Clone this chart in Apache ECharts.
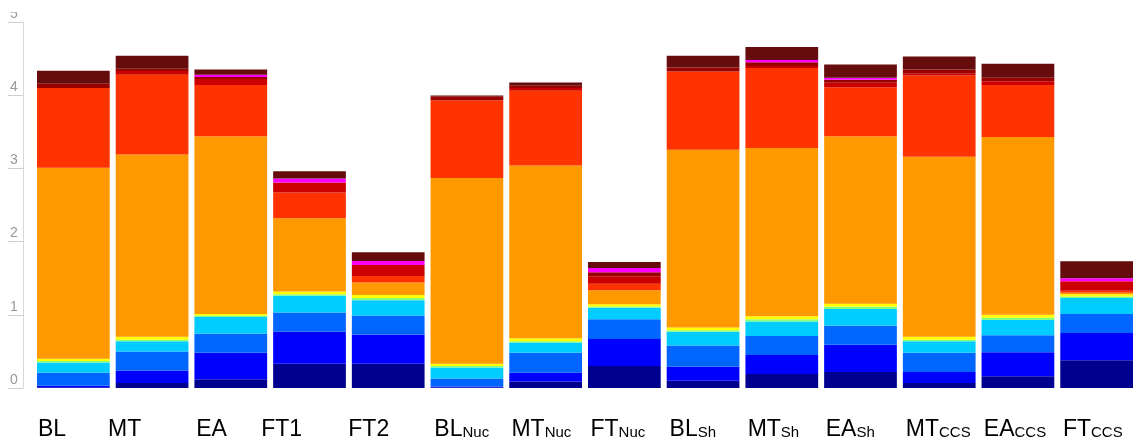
<!DOCTYPE html>
<html>
<head>
<meta charset="utf-8">
<script src="https://cdn.jsdelivr.net/npm/echarts@6/dist/echarts.min.js"></script>
<style>
  html, body { margin: 0; padding: 0; background: #ffffff; }
  #chart { width: 1136px; height: 441px; }
</style>
</head>
<body>
<div id="chart"></div>
<script>
// Scenario labels: main name plus optional subscript
const categories = ['BL', 'MT', 'EA', 'FT1', 'FT2', 'BL|Nuc', 'MT|Nuc', 'FT|Nuc',
                    'BL|Sh', 'MT|Sh', 'EA|Sh', 'MT|CCS', 'EA|CCS', 'FT|CCS'];
const yTicks = [0, 1, 2, 3, 4, 5];

// Stacked components, bottom to top
const navy      = [0.01, 0.07, 0.12, 0.33, 0.33, 0.01, 0.09, 0.30, 0.10, 0.19, 0.22, 0.07, 0.16, 0.38];
const blue      = [0.02, 0.17, 0.36, 0.44, 0.40, 0.01, 0.12, 0.37, 0.19, 0.26, 0.37, 0.15, 0.33, 0.37];
const midBlue   = [0.18, 0.26, 0.26, 0.26, 0.26, 0.11, 0.27, 0.27, 0.29, 0.26, 0.26, 0.26, 0.23, 0.26];
const cyan      = [0.14, 0.14, 0.23, 0.23, 0.21, 0.15, 0.14, 0.155, 0.19, 0.20, 0.23, 0.16, 0.21, 0.22];
const lime      = [0.02, 0.02, 0.02, 0.02, 0.03, 0.02, 0.02, 0.02, 0.02, 0.03, 0.03, 0.02, 0.03, 0.02];
const yellow    = [0.03, 0.04, 0.02, 0.04, 0.04, 0.03, 0.04, 0.03, 0.035, 0.04, 0.04, 0.04, 0.04, 0.03];
const orange    = [2.61, 2.49, 2.43, 1.00, 0.17, 2.54, 2.36, 0.19, 2.43, 2.30, 2.29, 2.46, 2.43, 0.02];
const redOrange = [1.09, 1.09, 0.70, 0.35, 0.09, 1.06, 1.02, 0.09, 1.07, 1.09, 0.67, 1.11, 0.71, 0.03];
const red       = [0.00, 0.05, 0.08, 0.137, 0.15, 0.00, 0.04, 0.10, 0.00, 0.03, 0.06, 0.03, 0.05, 0.13];
const darkRed   = [0.055, 0.03, 0.03, 0.00, 0.00, 0.055, 0.03, 0.055, 0.055, 0.05, 0.04, 0.05, 0.05, 0.00];
const magenta   = [0.00, 0.00, 0.03, 0.055, 0.055, 0.00, 0.00, 0.06, 0.00, 0.03, 0.03, 0.00, 0.00, 0.04];
const brown     = [0.18, 0.18, 0.07, 0.10, 0.12, 0.01, 0.045, 0.08, 0.16, 0.18, 0.18, 0.18, 0.19, 0.23];

const layers = [
  { name: 'navy',      data: navy,      color: '#000090' },
  { name: 'blue',      data: blue,      color: '#0000ff' },
  { name: 'midBlue',   data: midBlue,   color: '#0066ff' },
  { name: 'cyan',      data: cyan,      color: '#00ccff' },
  { name: 'lime',      data: lime,      color: '#80ff80' },
  { name: 'yellow',    data: yellow,    color: '#ffff00' },
  { name: 'orange',    data: orange,    color: '#ff9900' },
  { name: 'redOrange', data: redOrange, color: '#ff3300' },
  { name: 'red',       data: red,       color: '#cc0000' },
  { name: 'darkRed',   data: darkRed,   color: '#990000' },
  { name: 'magenta',   data: magenta,   color: '#ff00ff' },
  { name: 'brown',     data: brown,     color: '#660c0c' }
];

// Small horizontal nudges for the category captions (px)
const captionNudge = [16, 7, 16, 2, 10, 17, 15, 15, 15, 14, 13, 14, 13, 13];

const FONT = '"Liberation Sans", Arial, sans-serif';

const chart = echarts.init(document.getElementById('chart'), null, { renderer: 'canvas' });

const labelItems = categories.map((c, i) => ({
  value: c,
  textStyle: { align: 'left', verticalAlign: 'top', padding: [0, 0, 0, captionNudge[i]] }
}));
labelItems.push({ value: '' });

chart.setOption({
  animation: false,
  backgroundColor: '#ffffff',
  grid: [
    { left: 34, top: 22, width: 1107, height: 366 },
    { left: 22, top: 22, width: 1107, height: 366 }
  ],
  // top edge of the value-axis caption strip is cut off
  graphic: [{
    type: 'rect', left: 0, top: 0, z: 100,
    shape: { width: 22, height: 12 },
    style: { fill: '#ffffff' }
  }],
  xAxis: [
    {
      type: 'category', gridIndex: 0, data: categories,
      axisLine: { show: false }, axisTick: { show: false }, axisLabel: { show: false }
    },
    {
      type: 'category', gridIndex: 1, data: labelItems, boundaryGap: false,
      axisLine: { show: false }, axisTick: { show: false },
      axisLabel: {
        interval: 0, align: 'left', margin: 30, color: '#000',
        formatter: v => {
          if (!v) return '';
          const p = v.split('|');
          return p.length > 1 ? `{m|${p[0]}}{s|${p[1]}}` : `{m|${p[0]}}`;
        },
        rich: {
          m: { fontSize: 23, fontFamily: FONT, color: '#000', lineHeight: 26, verticalAlign: 'bottom' },
          s: { fontSize: 15, fontFamily: FONT, color: '#000', lineHeight: 26, verticalAlign: 'bottom', padding: [0, 0, 1, 0] }
        }
      }
    }
  ],
  yAxis: [
    {
      type: 'value', gridIndex: 0, min: yTicks[0], max: yTicks[yTicks.length - 1], interval: 1,
      offset: 11,
      splitLine: { show: false },
      axisLine: { show: true, lineStyle: { color: '#d8d8d8', width: 1 } },
      axisTick: { show: true, length: 15, lineStyle: { color: '#cfcfcf', width: 1 } },
      axisLabel: {
        align: 'left', verticalAlign: 'bottom', margin: 13, color: '#999999',
        fontSize: 14, fontFamily: FONT, lineHeight: 16
      }
    },
    { type: 'value', gridIndex: 1, show: false, min: 0, max: 5 }
  ],
  series: layers.map(l => ({
    name: l.name,
    type: 'bar',
    stack: 'total',
    xAxisIndex: 0,
    yAxisIndex: 0,
    barCategoryGap: '7.6%',
    data: l.data,
    itemStyle: { color: l.color }
  }))
});
</script>
</body>
</html>
